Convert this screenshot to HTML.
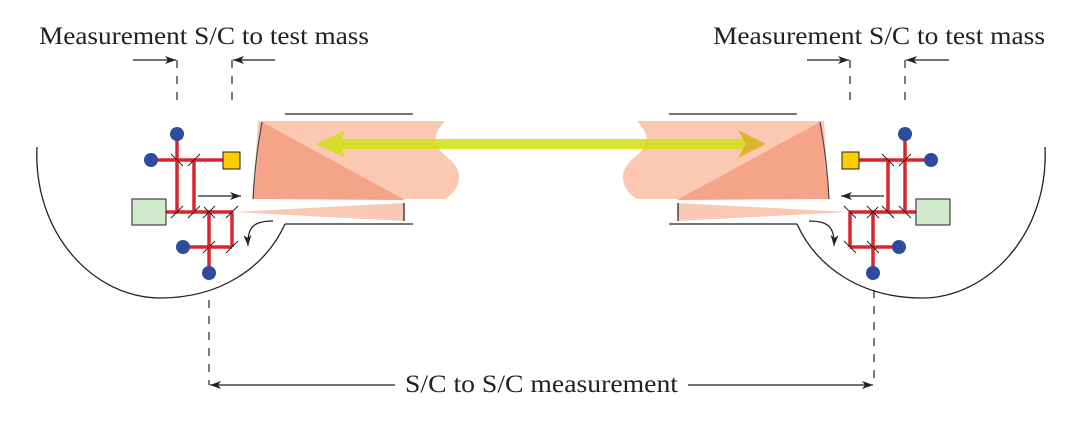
<!DOCTYPE html>
<html><head><meta charset="utf-8"><style>html,body{margin:0;padding:0;background:#fff}svg{display:block}</style></head>
<body>
<svg width="1085" height="426" viewBox="0 0 1085 426" xmlns="http://www.w3.org/2000/svg">
<defs>
<marker id="ah" markerWidth="12" markerHeight="10" refX="11" refY="5" orient="auto" markerUnits="userSpaceOnUse">
<path d="M0,1 L11,5 L0,9 L3,5 Z" fill="#222"/></marker>
<g id="side">
  <line x1="133" y1="60" x2="176" y2="60" stroke="#222" stroke-width="1.2" marker-end="url(#ah)"/>
  <line x1="275" y1="60" x2="233" y2="60" stroke="#222" stroke-width="1.2" marker-end="url(#ah)"/>
  <line x1="177" y1="60" x2="177" y2="106" stroke="#222" stroke-width="1.2" stroke-dasharray="8,8"/>
  <line x1="232" y1="60" x2="232" y2="106" stroke="#222" stroke-width="1.2" stroke-dasharray="8,8"/>
  <path d="M37,147 C33,235 95,298 160,298 C220,298 265,268 285,224" fill="none" stroke="#222" stroke-width="1.3"/>
  <line x1="285" y1="114" x2="413" y2="114" stroke="#222" stroke-width="1.3"/>
  <line x1="285" y1="224" x2="413" y2="224" stroke="#222" stroke-width="1.3"/>
  <path d="M258,121 L445,121 C432,135 432,145 448,158 C466,172 460,190 445,199 L253,199 Z" fill="#fbc8b4"/>
  <path d="M262,122 L405,200 L253,199 Z" fill="#f5a488"/>
  <path d="M233,212 L404,203 L404,221 Z" fill="#f8b59c" opacity="0.75"/>
  <path d="M253,199 Q255,160 262,122" fill="none" stroke="#444" stroke-width="1.2"/>
  <line x1="404" y1="203" x2="404" y2="221" stroke="#444" stroke-width="1.5"/>
  <g stroke="#d9262e" stroke-width="3.5" fill="none">
    <line x1="177" y1="134" x2="177" y2="212"/>
    <line x1="194" y1="160" x2="194" y2="212"/>
    <line x1="151" y1="160" x2="224" y2="160"/>
    <line x1="166" y1="212" x2="233" y2="212"/>
    <line x1="209" y1="212" x2="209" y2="273"/>
    <line x1="232" y1="212" x2="232" y2="247"/>
    <line x1="183" y1="247" x2="232" y2="247"/>
  </g>
  <g stroke="#222" stroke-width="1">
    <line x1="171" y1="154" x2="183" y2="166"/>
    <line x1="188" y1="166" x2="200" y2="154"/>
    <line x1="171" y1="218" x2="183" y2="206"/>
    <line x1="188" y1="218" x2="200" y2="206"/>
    <line x1="203" y1="218" x2="215" y2="206"/>
    <line x1="204" y1="207" x2="215" y2="218"/>
    <line x1="226" y1="218" x2="238" y2="206"/>
    <line x1="203" y1="253" x2="215" y2="241"/>
    <line x1="226" y1="253" x2="238" y2="241"/>
  </g>
  <circle cx="177" cy="134" r="7" fill="#2e4b9e"/>
  <circle cx="151" cy="160" r="7" fill="#2e4b9e"/>
  <circle cx="183" cy="247" r="7" fill="#2e4b9e"/>
  <circle cx="209" cy="273" r="7" fill="#2e4b9e"/>
  <rect x="223" y="152" width="17" height="17" fill="#ffcc00" stroke="#222" stroke-width="1"/>
  <rect x="132" y="199" width="34" height="26" fill="#d2ebcc" stroke="#222" stroke-width="1"/>
  <line x1="198" y1="196" x2="241" y2="196" stroke="#222" stroke-width="1.2" marker-end="url(#ah)"/>
  <path d="M273,221 C255,221 247,226 248,246" fill="none" stroke="#222" stroke-width="1.2" marker-end="url(#ah)"/>
</g>
</defs>
<g font-family="Liberation Serif, serif" font-size="25" fill="#222">
  <text x="39" y="44" textLength="330" lengthAdjust="spacingAndGlyphs">Measurement S/C to test mass</text>
  <text x="713" y="44" textLength="332" lengthAdjust="spacingAndGlyphs">Measurement S/C to test mass</text>
  <text x="405" y="392" textLength="273" lengthAdjust="spacingAndGlyphs">S/C to S/C measurement</text>
</g>
<use href="#side"/>
<use href="#side" transform="translate(1082,0) scale(-1,1)"/>
<g opacity="0.9">
  <rect x="330" y="139" width="420" height="10" fill="#d4e01c"/>
  <path d="M316,144 L346,130 L338,144 L346,158 Z" fill="#d4e01c"/>
  <path d="M766,144 L738,130 L746,144 L738,158 Z" fill="#d9b41c"/>
</g>
<line x1="209" y1="300" x2="209" y2="385" stroke="#222" stroke-width="1.2" stroke-dasharray="8,8"/>
<line x1="874" y1="290" x2="874" y2="385" stroke="#222" stroke-width="1.2" stroke-dasharray="8,8"/>
<line x1="395" y1="385" x2="210" y2="385" stroke="#222" stroke-width="1.2" marker-end="url(#ah)"/>
<line x1="688" y1="385" x2="873" y2="385" stroke="#222" stroke-width="1.2" marker-end="url(#ah)"/>
</svg>
</body></html>
